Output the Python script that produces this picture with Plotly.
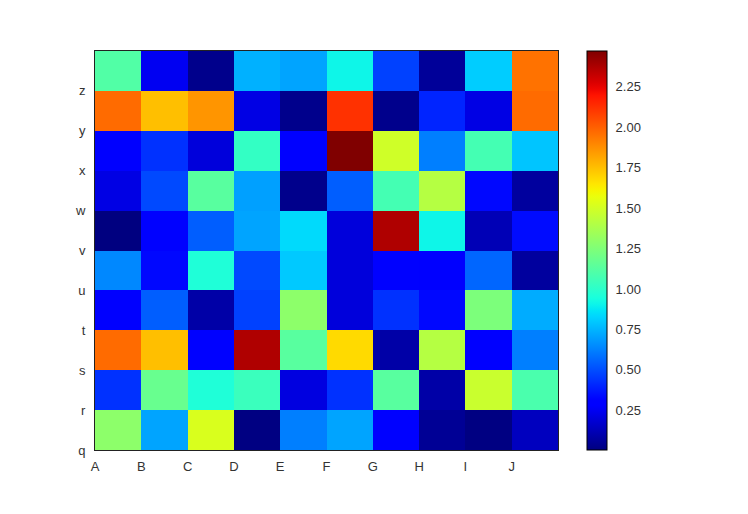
import numpy as np
import plotly.graph_objects as go

x_labels = ["A", "B", "C", "D", "E", "F", "G", "H", "I", "J"]
y_labels = ["q", "r", "s", "t", "u", "v", "w", "x", "y", "z"]

# rows from bottom (q) to top (z)
row_q = [1.29, 0.71, 1.52, 0.01, 0.62, 0.71, 0.29, 0.05, 0.01, 0.14]
row_r = [0.43, 1.18, 0.96, 1.04, 0.21, 0.43, 1.13, 0.09, 1.47, 1.09]
row_s = [1.97, 1.75, 0.29, 2.37, 1.13, 1.68, 0.09, 1.41, 0.28, 0.62]
row_t = [0.28, 0.54, 0.09, 0.47, 1.29, 0.20, 0.43, 0.33, 1.24, 0.73]
row_u = [0.64, 0.33, 0.96, 0.49, 0.80, 0.20, 0.29, 0.28, 0.56, 0.07]
row_v = [0.005, 0.29, 0.54, 0.71, 0.84, 0.20, 2.37, 0.91, 0.12, 0.34]
row_w = [0.22, 0.49, 1.13, 0.70, 0.03, 0.54, 1.07, 1.41, 0.33, 0.07]
row_x = [0.28, 0.43, 0.20, 1.02, 0.29, 2.47, 1.49, 0.62, 1.07, 0.79]
row_y = [1.97, 1.75, 1.86, 0.22, 0.03, 2.12, 0.03, 0.40, 0.22, 1.97]
row_z = [1.11, 0.25, 0.03, 0.74, 0.71, 0.91, 0.47, 0.06, 0.81, 1.95]

cbar_ticks = [0.25, 0.50, 0.75, 1.00, 1.25, 1.50, 1.75, 2.00, 2.25]

z = np.array([row_q, row_r, row_s, row_t, row_u, row_v, row_w, row_x, row_y, row_z])


def jet_scale(n=64):
    r_pts = [(0, 0), (0.35, 0), (0.66, 1), (0.89, 1), (1, 0.5)]
    g_pts = [(0, 0), (0.125, 0), (0.375, 1), (0.64, 1), (0.91, 0), (1, 0)]
    b_pts = [(0, 0.5), (0.11, 1), (0.34, 1), (0.65, 0), (1, 0)]

    def interp(pts, t):
        xs, ys = zip(*pts)
        return float(np.interp(t, xs, ys))

    scale = []
    for t in np.linspace(0, 1, n):
        r = interp(r_pts, t)
        g = interp(g_pts, t)
        b = interp(b_pts, t)
        scale.append([float(t), f"rgb({int(round(r*255))},{int(round(g*255))},{int(round(b*255))})"])
    return scale


nx = len(x_labels)
ny = len(y_labels)
x_edges = np.arange(nx + 1)
y_edges = np.arange(ny + 1)

W, H = 748, 514
ml, mr, mt, mb = 95, 140, 51, 64
pw = W - ml - mr
plot_right = 558
dom_x = (plot_right - ml) / pw
cb_x = (587 - ml) / pw

font_fam = "Liberation Sans, Arial"
fig = go.Figure(
    go.Heatmap(
        z=z,
        x=x_edges,
        y=y_edges,
        colorscale=jet_scale(),
        zmin=float(z.min()),
        zmax=float(z.max()),
        colorbar=dict(
            x=cb_x,
            xanchor="left",
            y=0,
            yanchor="bottom",
            len=1,
            lenmode="fraction",
            thickness=20,
            thicknessmode="pixels",
            outlinewidth=1,
            outlinecolor="black",
            tickvals=cbar_ticks,
            ticktext=[f"{v:.2f}" for v in cbar_ticks],
            ticks="outside",
            ticklen=6,
            tickcolor="rgba(0,0,0,0)",
            tickfont=dict(family=font_fam, size=13, color="#333333"),
            xpad=0,
            ypad=0,
        ),
    )
)

axis_font = dict(family=font_fam, size=13, color="#333333")
fig.update_layout(
    width=W,
    height=H,
    margin=dict(l=ml, r=mr, t=mt, b=mb),
    paper_bgcolor="white",
    plot_bgcolor="white",
    xaxis=dict(
        domain=[0, dom_x],
        range=[0, nx],
        tickvals=list(range(nx)),
        ticktext=x_labels,
        tickfont=axis_font,
        ticks="",
        showgrid=False,
        zeroline=False,
        showline=True,
        linecolor="#222222",
        linewidth=1,
        mirror=True,
        ticklabelstandoff=4,
    ),
    yaxis=dict(
        range=[0, ny],
        tickvals=list(range(ny)),
        ticktext=y_labels,
        tickfont=axis_font,
        ticks="",
        showgrid=False,
        zeroline=False,
        showline=True,
        linecolor="#222222",
        linewidth=1,
        mirror=True,
        ticklabelstandoff=6,
    ),
)

fig.write_html("out.html")
